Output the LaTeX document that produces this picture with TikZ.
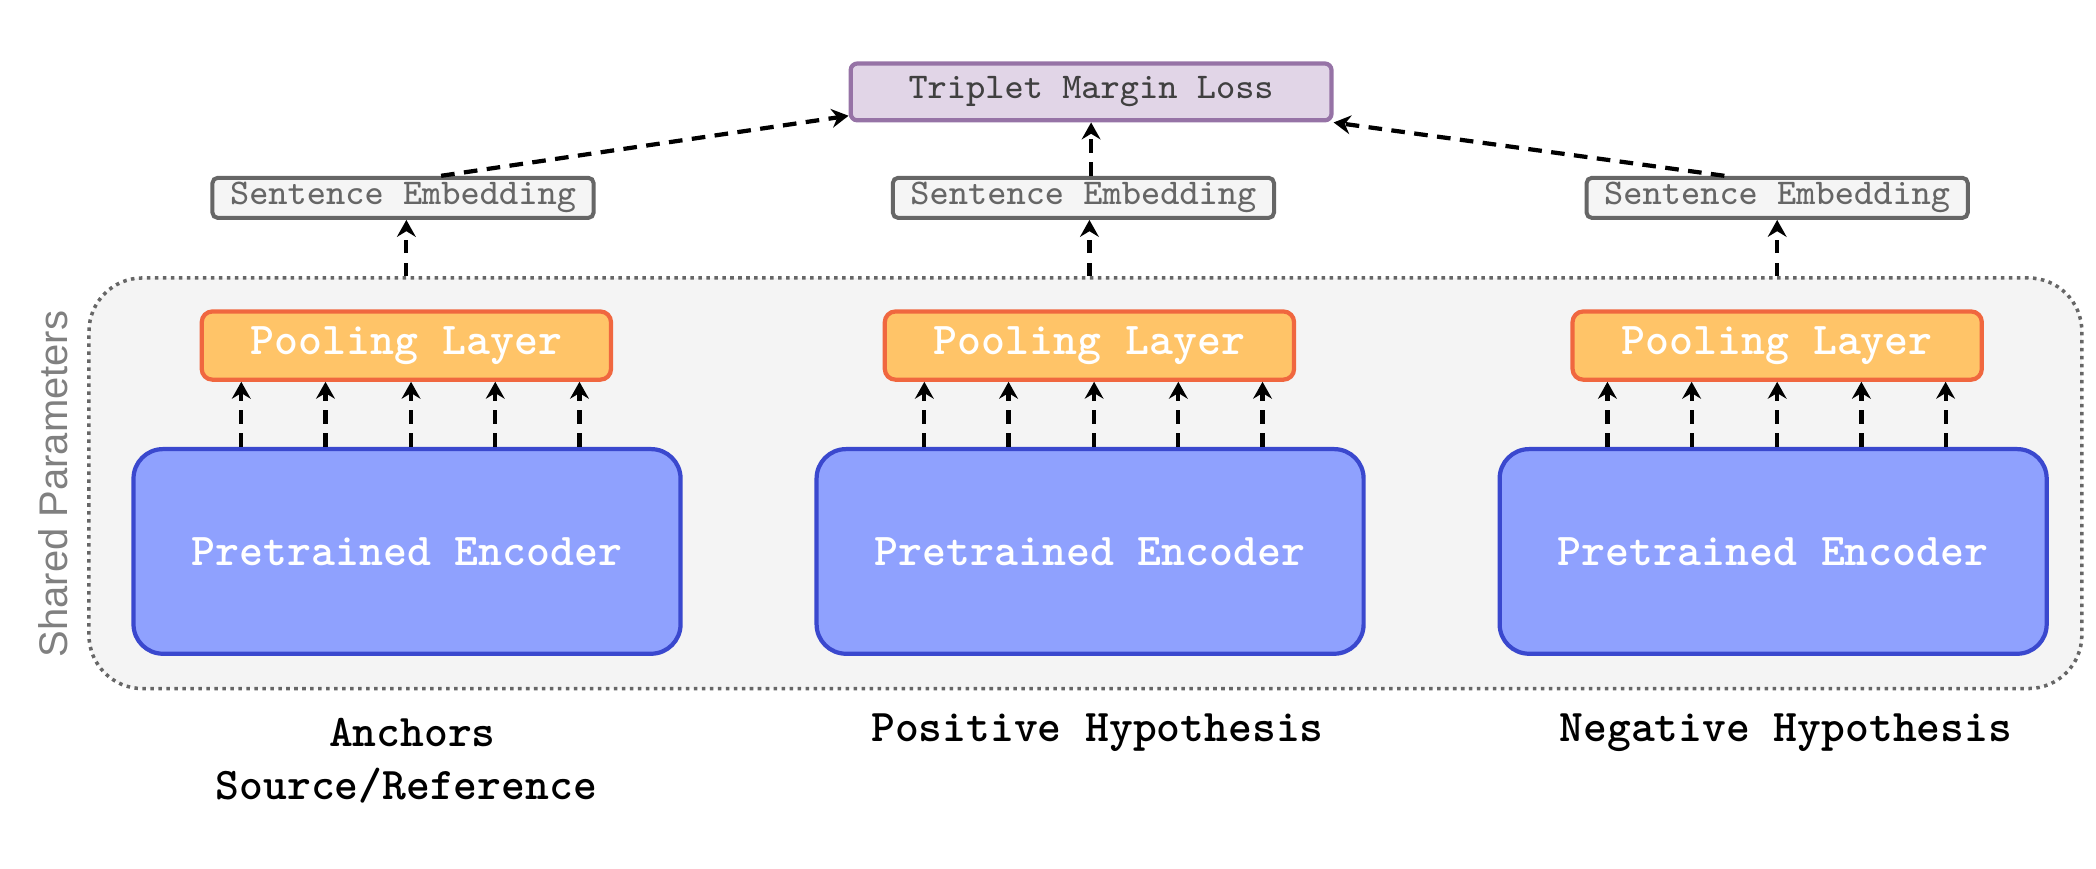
\documentclass[tikz,border=0pt]{standalone}
\usepackage{fontspec}
\newfontfamily\sharedfont{Liberation Sans}
\usetikzlibrary{arrows.meta,calc}
\definecolor{encfill}{HTML}{8FA1FE}
\definecolor{encdraw}{HTML}{3A48CE}
\definecolor{poolfill}{HTML}{FFC468}
\definecolor{pooldraw}{HTML}{F0673F}
\definecolor{lossfill}{HTML}{E1D5E7}
\definecolor{lossdraw}{HTML}{9673A6}
\definecolor{embfill}{HTML}{F5F5F5}
\definecolor{embdraw}{HTML}{666666}
\definecolor{sharedfill}{HTML}{F4F4F4}
\definecolor{sharedtext}{HTML}{808080}
\tikzset{
  encbox/.style={draw=encdraw, fill=encfill, line width=0.9pt, rounded corners=0.22cm,
    minimum width=4.09cm, minimum height=1.53cm, inner sep=0pt,
    text=white, font=\ttfamily\bfseries\fontsize{9.7}{11}\selectfont},
  poolbox/.style={draw=pooldraw, fill=poolfill, line width=0.9pt, rounded corners=0.08cm,
    minimum width=3.06cm, minimum height=0.51cm, inner sep=0pt,
    text=white, font=\ttfamily\bfseries\fontsize{9.7}{11}\selectfont},
  embbox/.style={draw=embdraw, fill=embfill, line width=0.85pt, rounded corners=0.04cm,
    minimum width=2.85cm, minimum height=0.30cm, inner sep=0pt,
    text=embdraw, font=\ttfamily\fontsize{7.7}{9}\selectfont},
  lossbox/.style={draw=lossdraw, fill=lossfill, line width=0.9pt, rounded corners=0.05cm,
    minimum width=3.595cm, minimum height=0.425cm, inner sep=0pt,
    text=black!75, font=\ttfamily\fontsize{7.7}{9}\selectfont},
  sharedbox/.style={draw=embdraw, fill=sharedfill, line width=0.75pt,
    dash pattern=on 0.75pt off 0.95pt, rounded corners=0.4cm,
    minimum width=14.9cm, minimum height=3.07cm, inner sep=0pt},
  lbl/.style={inner sep=0pt, text=black, font=\ttfamily\bfseries\fontsize{9.65}{11}\selectfont},
  sharedlbl/.style={inner sep=0pt, text=sharedtext, font=\sharedfont\fontsize{8.5}{10}\selectfont},
  arr/.style={draw=black, line width=0.9pt, dash pattern=on 2.9pt off 2pt,
    -{Stealth[length=3.6pt, width=4pt, inset=1.2pt]}}
}
\begin{document}
\begin{tikzpicture}[x=0.01cm, y=-0.01cm]
\useasboundingbox (0,0) rectangle (1568,649.4);

% shared-parameter area
\node[sharedbox] (shared) at (812,361.5) {};
\node[sharedlbl, rotate=90] (sp) at (40,362) {Shared Parameters};

% loss
\node[lossbox] (tl) at (816.25,68.75) {Triplet Margin Loss};

% sentence embeddings
\node[embbox] (sL) at (301.5,148) {Sentence Embedding};
\node[embbox] (sM) at (810.5,148) {Sentence Embedding};
\node[embbox] (sR) at (1329.5,148) {Sentence Embedding};

% pooling layers
\node[poolbox] (pL) at (304,258.5) {Pooling Layer};
\node[poolbox] (pM) at (815,258.5) {Pooling Layer};
\node[poolbox] (pR) at (1329.5,258.5) {Pooling Layer};

% encoders
\node[encbox] (eL) at (304.5,412.5) {Pretrained Encoder};
\node[encbox] (eM) at (815.5,412.5) {Pretrained Encoder};
\node[encbox] (eR) at (1326.5,412.5) {Pretrained Encoder};

% bottom labels
\node[lbl] (lA) at (308.5,548) {Anchors};
\node[lbl] (lS) at (304,588) {Source/Reference};
\node[lbl] (lP) at (821,548) {Positive Hypothesis};
\node[lbl] (lN) at (1336,548) {Negative Hypothesis};

% encoder -> pooling arrows
\foreach \e/\p in {eL/pL, eM/pM, eR/pR}{
  \foreach \dx in {-124,-61,3,66,129}{
    \coordinate (a) at ($(\e.north)+(\dx,0)$);
    \draw[arr] (a) -- (a |- \p.south);
  }
}

% shared area -> sentence embedding
\draw[arr] (shared.north -| pL) -- (sL.south -| pL);
\draw[arr] (shared.north -| pM) -- (sM.south -| pM);
\draw[arr] (shared.north -| pR) -- (sR.south -| pR);

% sentence embedding -> loss
\draw[arr] ($(sL.north)+(28.5,0)$) -- ($(tl.south west)+(0,-5)$);
\draw[arr] (sM.north -| tl.south) -- (tl.south);
\draw[arr] ($(sR.north)+(-39.5,0)$) -- (tl.south east);
\end{tikzpicture}
\end{document}
